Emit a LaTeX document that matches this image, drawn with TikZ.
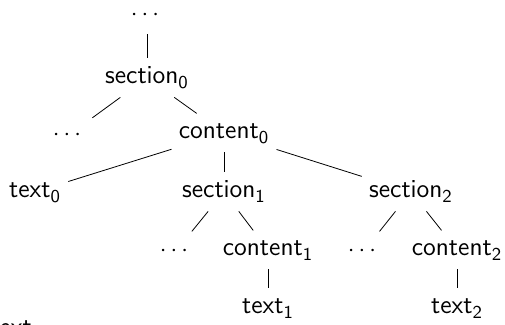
\documentclass[tikz,border=0pt]{standalone}
\usepackage{fontspec}
\usepackage{amsmath}
\tikzset{treenode/.style={font=\sffamily\fontsize{13}{15.5}\selectfont, anchor=base,
    text height=9.1pt, text depth=3pt, inner sep=3.5pt}}

\begin{document}
\begin{tikzpicture}[x=0.5pt, y=-0.5pt, every node/.style={treenode}]
  \useasboundingbox (0,0) rectangle (505,325);
  % tree nodes, placed on their baselines
  \foreach \nm/\xc/\yc/\lab in {top/147/21/{$\cdots$}, sec0/147/84/{section$_{\mathsf{0}}$},
      dl0/69/141/{$\cdots$}, con0/224/139/{content$_{\mathsf{0}}$},
      txt0/35/198/{text$_{\mathsf{0}}$}, sec1/224/198/{section$_{\mathsf{1}}$},
      sec2/411/198/{section$_{\mathsf{2}}$},
      dl1/176/257/{$\cdots$}, con1/268/256/{content$_{\mathsf{1}}$},
      dl2/364/257/{$\cdots$}, con2/457/256/{content$_{\mathsf{2}}$},
      txt1/268/314/{text$_{\mathsf{1}}$}, txt2/457/314/{text$_{\mathsf{2}}$}} {
    \node (\nm) at (\xc,\yc) {\lab};
  }
  % edges
  \foreach \a/\b in {top/sec0, sec0/dl0, sec0/con0, con0/txt0, con0/sec1, con0/sec2,
      sec1/dl1, sec1/con1, sec2/dl2, sec2/con2, con1/txt1, con2/txt2} {
    \draw (\a) -- (\b);
  }
  % label cut off at the lower edge
  \node[anchor=base west, inner sep=0pt] (cut) at (-10,336) {text};
\end{tikzpicture}
\end{document}
